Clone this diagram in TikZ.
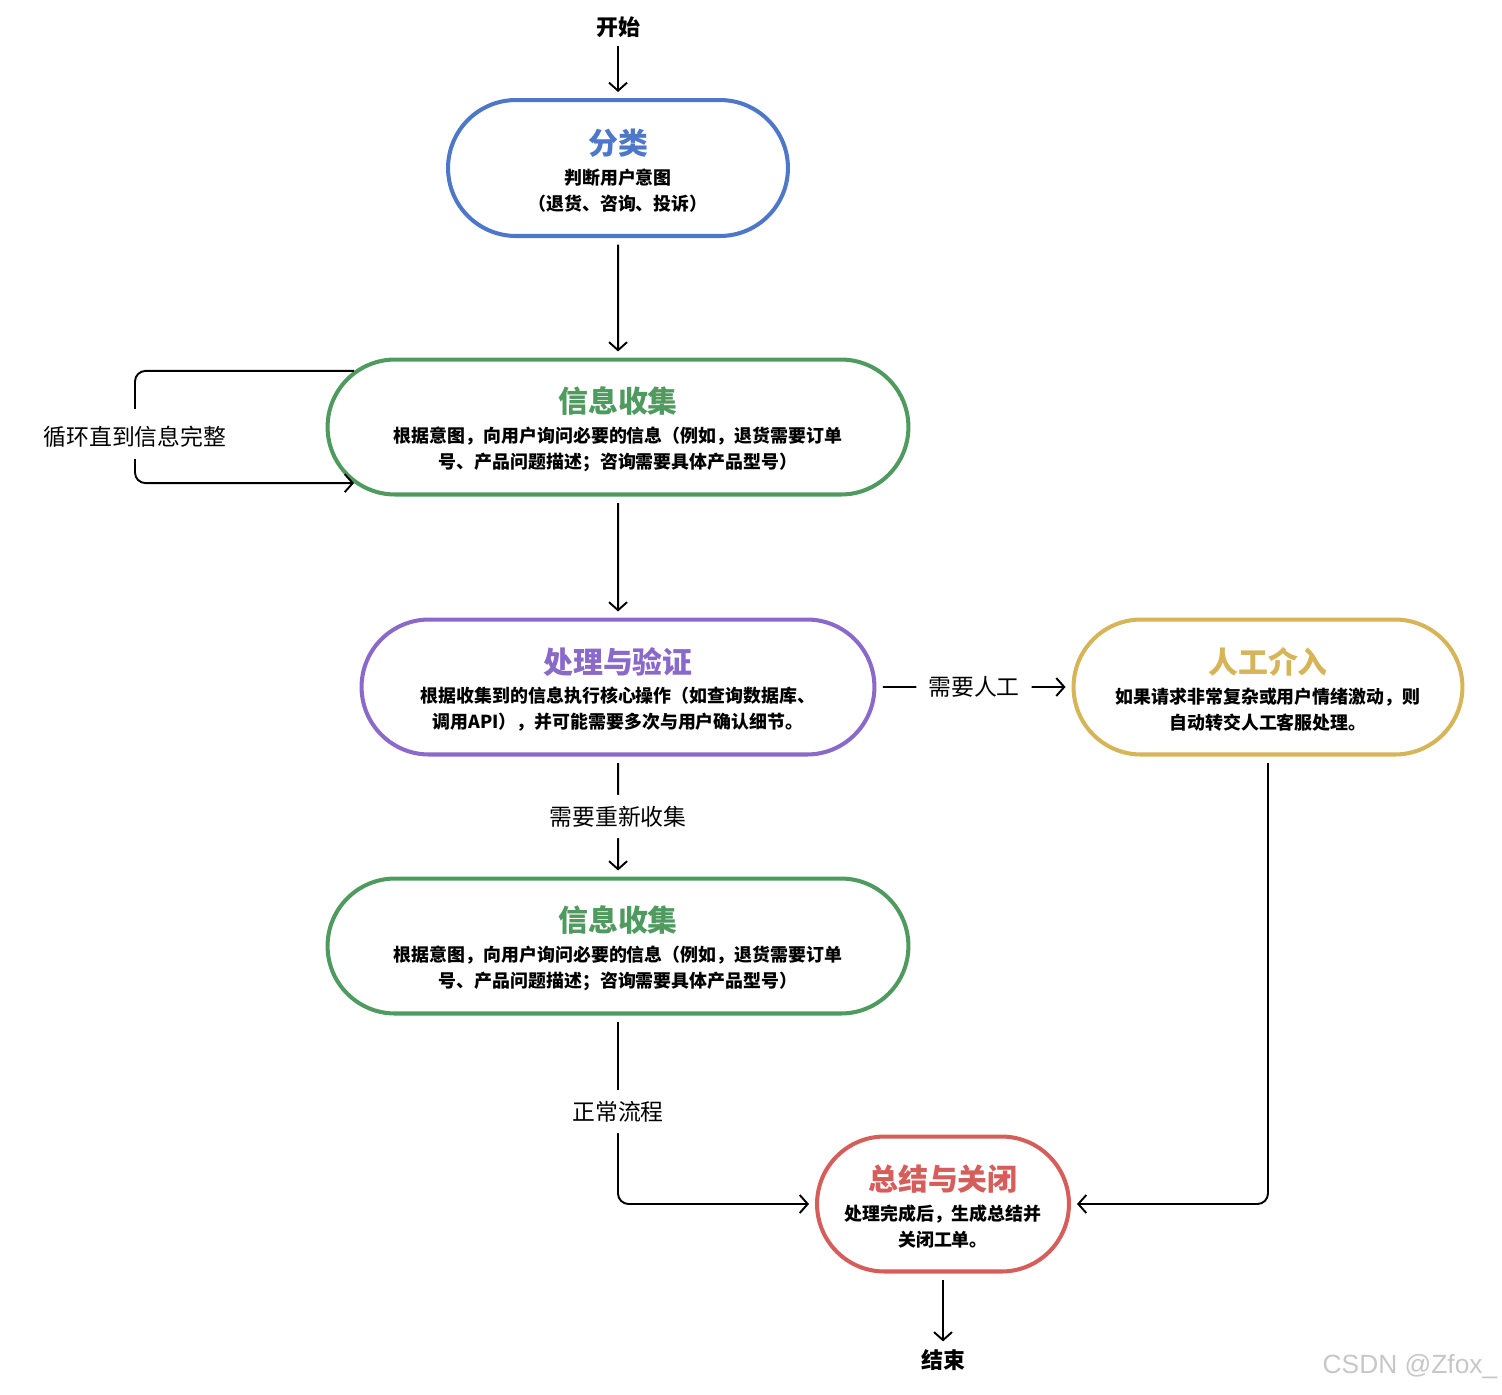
\documentclass[tikz,border=0pt]{standalone}
\usepackage{fontspec}
\setmainfont{Noto Sans CJK SC}
\newfontfamily\markfont{Liberation Sans}
\usetikzlibrary{arrows.meta,shapes.misc}

\definecolor{classblue}{HTML}{4D77C9}
\definecolor{collectgreen}{HTML}{4F9A5F}
\definecolor{verifypurple}{HTML}{8A69CA}
\definecolor{humangold}{HTML}{D6B457}
\definecolor{closered}{HTML}{D65E5A}

\newcommand\phasetitle[2]{{\fontsize{17}{20}\selectfont\color{#1}\rule{0pt}{17.5pt}#2}\\[2pt]}

\begin{document}
\begin{tikzpicture}[
  x=0.02cm, y=-0.02cm,
  phase/.style={rounded rectangle, line width=2.3pt, fill=white,
    align=center, inner sep=2pt,
    font=\fontsize{10.2}{14.8}\selectfont\bfseries},
  flow/.style={-{Straight Barb[length=1.6mm,width=3.6mm]}, line width=1.1pt,
    shorten <=0.13cm, shorten >=0.12cm, rounded corners=6pt},
  terminal/.style={font=\fontsize{12.5}{15}\selectfont\bfseries, inner sep=1pt},
  note/.style={fill=white, font=\fontsize{13}{15}\selectfont,
    inner xsep=0.24cm, inner ysep=0.22cm}
]
\useasboundingbox (0,0) rectangle (1502,1394);

\node[terminal] (start) at (618,27) {开始};
\node[phase, draw=classblue, minimum width=6.94cm, minimum height=2.72cm]
  (classify) at (618,168)
  {\phasetitle{classblue}{分类}判断用户意图\\（退货、咨询、投诉）};
\node[phase, draw=collectgreen, minimum width=11.76cm, minimum height=2.70cm]
  (collect1) at (618,427)
  {\phasetitle{collectgreen}{信息收集}根据意图，向用户询问必要的信息（例如，退货需要订单\\号、产品问题描述；咨询需要具体产品型号）};
\node[phase, draw=verifypurple, minimum width=10.40cm, minimum height=2.70cm]
  (verify) at (618,687)
  {\phasetitle{verifypurple}{处理与验证}根据收集到的信息执行核心操作（如查询数据库、\\调用API），并可能需要多次与用户确认细节。};
\node[phase, draw=humangold, minimum width=7.92cm, minimum height=2.70cm]
  (human) at (1268,687)
  {\phasetitle{humangold}{人工介入}如果请求非常复杂或用户情绪激动，则\\自动转交人工客服处理。};
\node[phase, draw=collectgreen, minimum width=11.76cm, minimum height=2.70cm]
  (collect2) at (618,946)
  {\phasetitle{collectgreen}{信息收集}根据意图，向用户询问必要的信息（例如，退货需要订单\\号、产品问题描述；咨询需要具体产品型号）};
\node[phase, draw=closered, minimum width=5.18cm, minimum height=2.70cm]
  (close) at (943,1204)
  {\phasetitle{closered}{总结与关闭}处理完成后，生成总结并\\关闭工单。};
\node[terminal] (finish) at (943,1360) {结束};

\draw[flow] (start) -- (classify);
\draw[flow] (classify) -- (collect1);
% loop back into the same step
\node[note, inner xsep=2pt] (loopnote) at (135,437) {循环直到信息完整};
\draw[flow, -, shorten <=0pt] (collect1.168) -| (loopnote.north);
\draw[flow, shorten <=0pt, shorten >=0pt] (loopnote.south) |- (collect1.192);
\draw[flow] (collect1) -- (verify);
\draw[flow] (verify) -- node[note] {需要人工} (human);
\draw[flow] (verify) -- node[note] {需要重新收集} (collect2);
\draw[flow] (collect2.south) |- node[note, pos=0.255] {正常流程} (close.west);
\draw[flow] (human.south) |- (close.east);
\draw[flow] (close) -- (finish);

\node[text=black!22, font=\markfont\fontsize{15}{18}\selectfont] (mark) at (1410,1367) {CSDN @Zfox\_};
\end{tikzpicture}
\end{document}
